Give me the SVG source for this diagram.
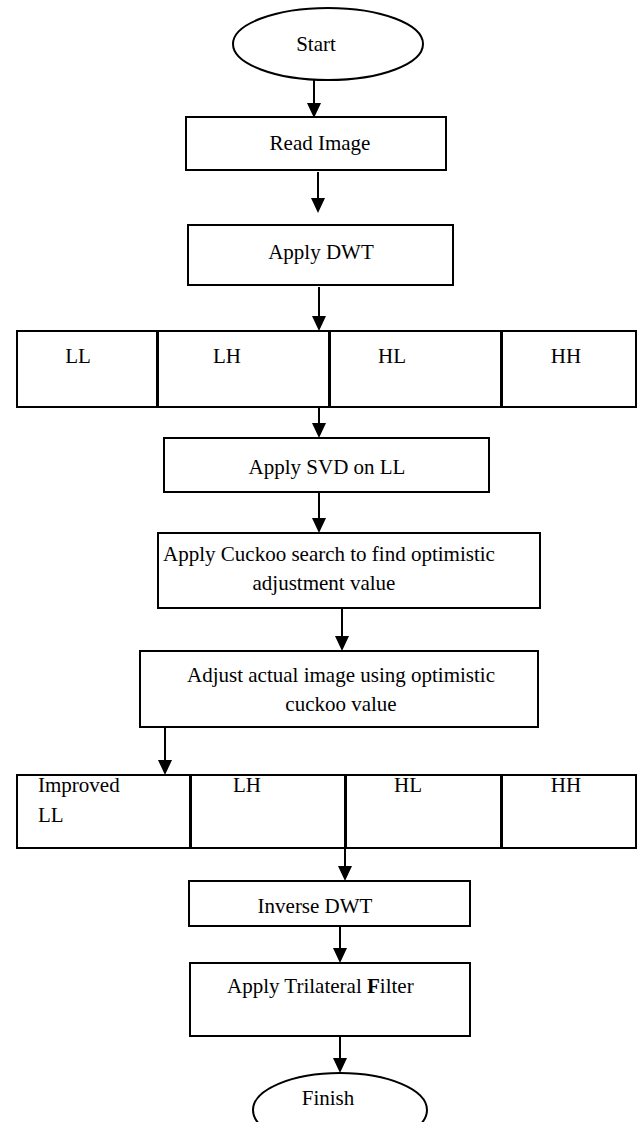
<svg xmlns="http://www.w3.org/2000/svg" width="637" height="1122" viewBox="0 0 637 1122">
<style>
.b{fill:#fff;stroke:#000;stroke-width:2}
.t{font-family:"Liberation Serif","Times New Roman",serif;font-size:21px;fill:#000}
.m{text-anchor:middle}
.c{stroke:#000;stroke-width:2;fill:none}
</style>
<defs>
<marker id="ah" markerWidth="15" markerHeight="14" refX="7" refY="7" orient="auto" markerUnits="userSpaceOnUse">
<path d="M0,0 L15,7 L0,14 z" fill="#000"/>
</marker>
</defs>
<rect width="637" height="1122" fill="#fff"/>
<g id="connectors">
<line class="c" x1="314" y1="80" x2="314" y2="110" marker-end="url(#ah)"/>
<line class="c" x1="318" y1="172" x2="318" y2="205" marker-end="url(#ah)"/>
<line class="c" x1="319" y1="287" x2="319" y2="323" marker-end="url(#ah)"/>
<line class="c" x1="319" y1="408" x2="319" y2="430" marker-end="url(#ah)"/>
<line class="c" x1="319" y1="492" x2="319" y2="525" marker-end="url(#ah)"/>
<line class="c" x1="342" y1="609" x2="342" y2="643" marker-end="url(#ah)"/>
<line class="c" x1="165" y1="727" x2="165" y2="767" marker-end="url(#ah)"/>
<line class="c" x1="345" y1="848" x2="345" y2="873" marker-end="url(#ah)"/>
<line class="c" x1="340" y1="927" x2="340" y2="955" marker-end="url(#ah)"/>
<line class="c" x1="340" y1="1037" x2="340" y2="1065" marker-end="url(#ah)"/>
</g>
<g id="start">
<ellipse class="b" cx="328" cy="44" rx="95" ry="36"/>
<text class="t m" x="316" y="51">Start</text>
</g>
<g id="read-image">
<rect class="b" x="186" y="117" width="260" height="53"/>
<text class="t m" x="320" y="150">Read Image</text>
</g>
<g id="apply-dwt">
<rect class="b" x="188" y="225" width="265" height="60"/>
<text class="t m" x="321" y="259">Apply DWT</text>
</g>
<g id="subbands-1">
<rect class="b" x="17" y="331" width="140" height="76"/>
<rect class="b" x="158" y="331" width="171" height="76"/>
<rect class="b" x="330" y="331" width="171" height="76"/>
<rect class="b" x="502" y="331" width="134" height="76"/>
<text class="t m" x="78" y="363">LL</text>
<text class="t m" x="227" y="363">LH</text>
<text class="t m" x="392" y="363">HL</text>
<text class="t m" x="566" y="363">HH</text>
</g>
<g id="apply-svd">
<rect class="b" x="164" y="438" width="325" height="54"/>
<text class="t m" x="327" y="474">Apply SVD on LL</text>
</g>
<g id="cuckoo-search">
<rect class="b" x="158" y="533" width="382" height="75"/>
<text class="t m" x="329" y="561">Apply Cuckoo search to find optimistic</text>
<text class="t m" x="324" y="590">adjustment value</text>
</g>
<g id="adjust-image">
<rect class="b" x="140" y="651" width="398" height="76"/>
<text class="t m" x="341" y="682">Adjust actual image using optimistic</text>
<text class="t m" x="341" y="711">cuckoo value</text>
</g>
<g id="subbands-2">
<rect class="b" x="17" y="775" width="173" height="73"/>
<rect class="b" x="191" y="775" width="154" height="73"/>
<rect class="b" x="346" y="775" width="155" height="73"/>
<rect class="b" x="502" y="775" width="134" height="73"/>
<text class="t" x="38" y="792">Improved</text>
<text class="t" x="38" y="822">LL</text>
<text class="t m" x="247" y="792">LH</text>
<text class="t m" x="408" y="792">HL</text>
<text class="t m" x="566" y="792">HH</text>
</g>
<g id="inverse-dwt">
<rect class="b" x="189" y="881" width="281" height="45"/>
<text class="t m" x="315" y="913">Inverse DWT</text>
</g>
<g id="trilateral-filter">
<rect class="b" x="190" y="963" width="280" height="73"/>
<text class="t" x="227" y="993">Apply Trilateral <tspan font-weight="bold">F</tspan>ilter</text>
</g>
<g id="finish">
<ellipse class="b" cx="340" cy="1110" rx="87" ry="37"/>
<text class="t m" x="328" y="1105">Finish</text>
</g>
</svg>
